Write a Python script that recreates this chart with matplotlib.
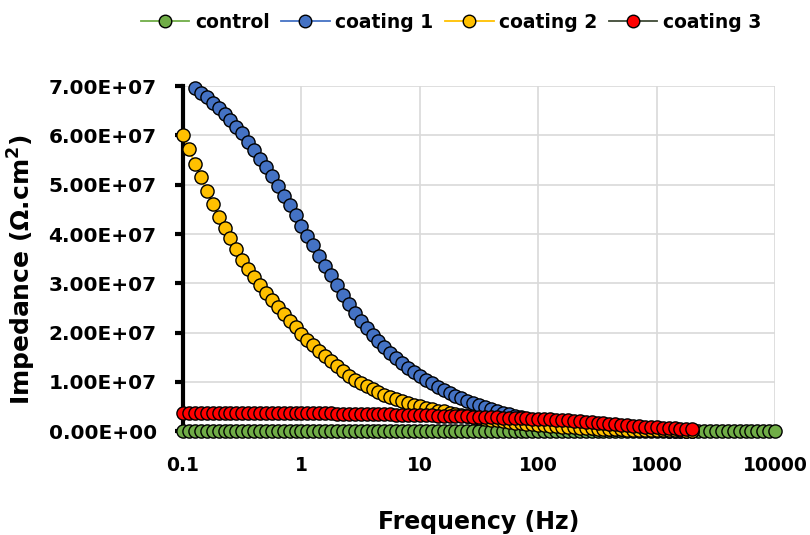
import numpy as np
import matplotlib.pyplot as plt

plt.rcParams['font.family'] = ['DejaVu Sans']
plt.rcParams['font.weight'] = 'bold'

# Frequency sweep (Hz), 20 points per decade
freq = [0.1000, 0.1122, 0.1259, 0.1413, 0.1585, 0.1778, 0.1995, 0.2239, 0.2512, 0.2818,
        0.3162, 0.3548, 0.3981, 0.4467, 0.5012, 0.5623, 0.6310, 0.7079, 0.7943, 0.8913,
        1.000, 1.122, 1.259, 1.413, 1.585, 1.778, 1.995, 2.239, 2.512, 2.818,
        3.162, 3.548, 3.981, 4.467, 5.012, 5.623, 6.310, 7.079, 7.943, 8.913,
        10.00, 11.22, 12.59, 14.13, 15.85, 17.78, 19.95, 22.39, 25.12, 28.18,
        31.62, 35.48, 39.81, 44.67, 50.12, 56.23, 63.10, 70.79, 79.43, 89.13,
        100.0, 112.2, 125.9, 141.3, 158.5, 177.8, 199.5, 223.9, 251.2, 281.8,
        316.2, 354.8, 398.1, 446.7, 501.2, 562.3, 631.0, 707.9, 794.3, 891.3,
        1000, 1122, 1259, 1413, 1585, 1778, 1995, 2239, 2512, 2818,
        3162, 3548, 3981, 4467, 5012, 5623, 6310, 7079, 7943, 8913, 10000]

# Impedance values in units of 1e7 ohm.cm2
control = [0.012, 0.012, 0.011, 0.011, 0.011, 0.010, 0.010, 0.010, 0.009, 0.009,
           0.009, 0.008, 0.008, 0.008, 0.008, 0.007, 0.007, 0.007, 0.007, 0.006,
           0.006, 0.006, 0.006, 0.006, 0.005, 0.005, 0.005, 0.005, 0.005, 0.005,
           0.004, 0.004, 0.004, 0.004, 0.004, 0.004, 0.004, 0.003, 0.003, 0.003,
           0.003, 0.003, 0.003, 0.003, 0.003, 0.003, 0.002, 0.002, 0.002, 0.002,
           0.002, 0.002, 0.002, 0.002, 0.002, 0.002, 0.002, 0.002, 0.002, 0.001,
           0.001, 0.001, 0.001, 0.001, 0.001, 0.001, 0.001, 0.001, 0.001, 0.001,
           0.001, 0.001, 0.001, 0.001, 0.001, 0.001, 0.001, 0.001, 0.001, 0.001,
           0.001, 0.001, 0.001, 0.001, 0.001, 0.001, 0.001, 0.001, 0.001, 0.001,
           0.001, 0.001, 0.001, 0.001, 0.001, 0.001, 0.001, 0.001, 0.001, 0.001, 0.001]

# coating 1 starts at the 3rd frequency (0.1259 Hz)
coating1 = [6.97, 6.87, 6.77, 6.66, 6.56, 6.44, 6.32, 6.18, 6.04, 5.87,
            5.71, 5.53, 5.35, 5.17, 4.98, 4.78, 4.58, 4.38, 4.17, 3.97,
            3.77, 3.56, 3.36, 3.16, 2.96, 2.77, 2.58, 2.40, 2.24, 2.09,
            1.95, 1.82, 1.70, 1.59, 1.48, 1.38, 1.29, 1.20, 1.12, 1.04,
            0.97, 0.90, 0.84, 0.78, 0.72, 0.67, 0.62, 0.57, 0.53, 0.49,
            0.45, 0.41, 0.375, 0.34, 0.31, 0.28, 0.25, 0.225, 0.20, 0.18,
            0.16, 0.14, 0.125, 0.11, 0.10, 0.09, 0.08, 0.07, 0.06, 0.055,
            0.05, 0.045, 0.04, 0.035, 0.03, 0.027, 0.024, 0.021, 0.018, 0.016,
            0.014, 0.012, 0.011, 0.010, 0.009]

coating2 = [6.00, 5.72, 5.43, 5.15, 4.88, 4.60, 4.35, 4.13, 3.91, 3.69,
            3.48, 3.30, 3.13, 2.97, 2.81, 2.66, 2.52, 2.38, 2.24, 2.11,
            1.98, 1.86, 1.74, 1.63, 1.52, 1.42, 1.32, 1.22, 1.13, 1.04,
            0.97, 0.91, 0.85, 0.79, 0.74, 0.69, 0.65, 0.61, 0.57, 0.54,
            0.51, 0.48, 0.45, 0.42, 0.40, 0.37, 0.35, 0.33, 0.31, 0.29,
            0.27, 0.25, 0.235, 0.22, 0.205, 0.19, 0.175, 0.16, 0.15, 0.14,
            0.13, 0.12, 0.11, 0.10, 0.09, 0.083, 0.076, 0.07, 0.064, 0.058,
            0.053, 0.048, 0.044, 0.04, 0.036, 0.033, 0.03, 0.027, 0.025, 0.023,
            0.021, 0.019, 0.017, 0.016, 0.015, 0.014, 0.013]

coating3 = [0.375, 0.375, 0.374, 0.374, 0.373, 0.373, 0.372, 0.372, 0.371, 0.371,
            0.370, 0.370, 0.369, 0.369, 0.368, 0.368, 0.367, 0.367, 0.366, 0.366,
            0.365, 0.364, 0.363, 0.362, 0.361, 0.360, 0.359, 0.357, 0.356, 0.354,
            0.352, 0.350, 0.348, 0.346, 0.344, 0.341, 0.338, 0.335, 0.332, 0.329,
            0.325, 0.322, 0.319, 0.316, 0.313, 0.310, 0.307, 0.304, 0.300, 0.296,
            0.292, 0.288, 0.284, 0.280, 0.276, 0.272, 0.268, 0.264, 0.260, 0.256,
            0.252, 0.246, 0.240, 0.233, 0.226, 0.218, 0.210, 0.201, 0.192, 0.183,
            0.173, 0.163, 0.153, 0.143, 0.133, 0.123, 0.113, 0.103, 0.094, 0.085,
            0.077, 0.070, 0.063, 0.057, 0.052, 0.047, 0.043]

f = np.array(freq)
series = [
    ('control', f[:len(control)], control, '#70ad47', '#70ad47'),
    ('coating 1', f[2:2 + len(coating1)], coating1, '#4472c4', '#4472c4'),
    ('coating 2', f[:len(coating2)], coating2, '#ffc000', '#ffc000'),
    ('coating 3', f[:len(coating3)], coating3, '#ff0000', '#3f4a36'),
]

fig = plt.figure(figsize=(8.1, 5.35), dpi=100)
ax = fig.add_axes([0.226, 0.194, 0.731, 0.645])

for name, x, y, fc, lc in series:
    ax.plot(x, np.array(y) * 1e7, color=lc, lw=1.3, marker='o', ms=9.5,
            markerfacecolor=fc, markeredgecolor='black', markeredgewidth=1.0,
            label=name, clip_on=False, zorder=3)

ax.set_xscale('log')
ax.set_xlim(0.1, 10000)
ax.set_ylim(0, 7e7)
ax.set_xticks([0.1, 1, 10, 100, 1000, 10000])
ax.set_xticklabels(['0.1', '1', '10', '100', '1000', '10000'])
ax.minorticks_off()
yt = np.arange(0, 7.01e7, 1e7)
ax.set_yticks(yt)
ax.set_yticklabels(['%.2fE+07' % (v / 1e7) if v > 0 else '0.00E+00' for v in yt])

ax.grid(True, color='#d9d9d9', lw=1.2)
ax.set_axisbelow(True)
for s in ['top', 'right']:
    ax.spines[s].set_visible(False)
ax.spines['left'].set_linewidth(3)
ax.spines['left'].set_color('black')
ax.spines['bottom'].set_color('#d9d9d9')
ax.tick_params(axis='y', length=6, width=3, labelsize=14.5, pad=13)
ax.tick_params(axis='x', length=5, width=1.5, labelsize=13.5, pad=13)
for lab in ax.get_xticklabels() + ax.get_yticklabels():
    lab.set_fontweight('bold')

ax.set_xlabel('Frequency (Hz)', fontsize=17, fontweight='bold', labelpad=25)
ax.set_ylabel('Impedance (Ω.cm$^\\mathbf{2}$)', fontsize=18, fontweight='bold')
ax.yaxis.set_label_coords(-0.245, 0.467)

fig.legend(loc='center', bbox_to_anchor=(451 / 810, 0.958), ncol=4, frameon=False,
           prop={'size': 13.5, 'weight': 'bold'}, handlelength=2.6,
           columnspacing=0.6, handletextpad=0.3, markerscale=0.95)

plt.savefig('out.png', dpi=100)
